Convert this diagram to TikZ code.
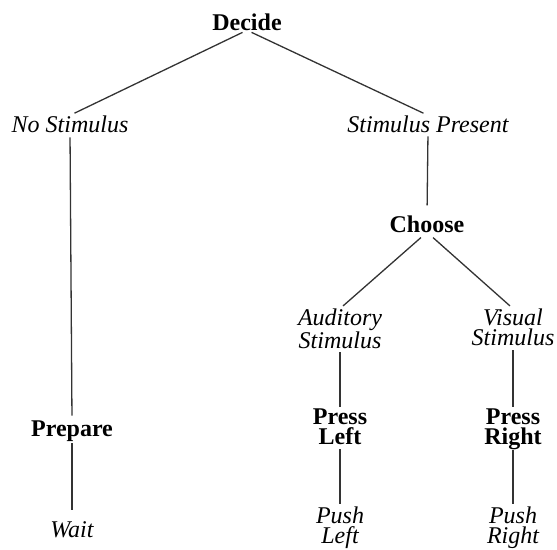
\documentclass[tikz,border=0pt]{standalone}
\usepackage{fontspec}
\setmainfont{Liberation Serif}
\begin{document}
\begin{tikzpicture}[x=1pt,y=-1pt,
  lbl/.style={inner sep=0pt, outer sep=0pt, font=\fontsize{24}{20.5}\selectfont, align=center, text=black},
  act/.style={lbl, font=\fontsize{24}{20.5}\selectfont\bfseries},
  stim/.style={lbl, font=\fontsize{24}{20.5}\selectfont\itshape},
  link/.style={line width=1.3pt, draw=black!80}]
\useasboundingbox (0,0) rectangle (557,549);
% nodes
\node[act, anchor=base]  (decide)   at (247,30)  {Decide};
\node[stim, anchor=base] (nostim)   at (70,132)  {No Stimulus};
\node[stim, anchor=base] (stimpres) at (428,132) {Stimulus Present};
\node[act, anchor=base]  (choose)   at (427,232) {Choose};
\node[stim, anchor=north] (aud)     at (340,308.6) {Auditory\\Stimulus};
\node[stim, anchor=north] (vis)     at (513,308.6) {Visual\\Stimulus};
\node[act, anchor=north] (pressl)   at (340,408.6) {Press\\Left};
\node[act, anchor=north] (pressr)   at (513,408.6) {Press\\Right};
\node[stim, anchor=north] (pushl)   at (340,506.6) {Push\\Left};
\node[stim, anchor=north] (pushr)   at (513,506.6) {Push\\Right};
\node[act, anchor=base]  (prepare)  at (72,436)  {Prepare};
\node[stim, anchor=base] (wait)     at (72,537)  {Wait};
% connectors
\draw[link, shorten <=5pt, shorten >=5pt] (decide.south) -- (nostim.north);
\draw[link, shorten <=5pt, shorten >=5pt] (decide.south) -- (stimpres.north);
\draw[link, shorten <=4pt, shorten >=10pt] (stimpres.south) -- (choose.north);
\draw[link, shorten <=8pt, shorten >=4pt] (choose.south) -- (aud.north);
\draw[link, shorten <=8pt, shorten >=4pt] (choose.south) -- (vis.north);
\draw[link, shorten <=4pt, shorten >=2pt] (aud.south) -- (pressl.north);
\draw[link, shorten <=4pt, shorten >=2pt] (vis.south) -- (pressr.north);
\draw[link, shorten <=4pt, shorten >=2.5pt] (pressl.south) -- (pushl.north);
\draw[link, shorten <=0pt, shorten >=2.5pt] (pressr.south) -- (pushr.north);
\draw[link, shorten <=5pt, shorten >=4.6pt] (nostim.south) -- (prepare.north);
\draw[link, shorten <=2pt, shorten >=11pt] (prepare.south) -- (wait.north);
\end{tikzpicture}
\end{document}
